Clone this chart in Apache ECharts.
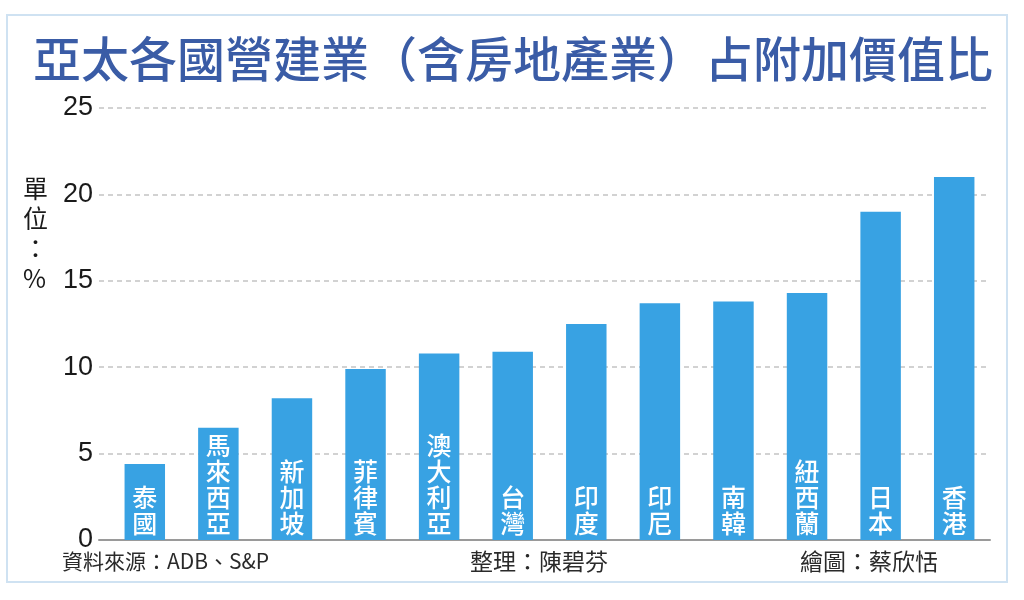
<!DOCTYPE html>
<html>
<head>
<meta charset="utf-8">
<script src="https://cdn.jsdelivr.net/npm/echarts@6/dist/echarts.min.js"></script>
<style>
html,body{margin:0;padding:0;background:#fff;}
#chart{width:1024px;height:600px;}
</style>
</head>
<body>
<div id="chart"></div>
<script>
const categories = ['泰國','馬來西亞','新加坡','菲律賓','澳大利亞','台灣','印度','印尼','南韓','紐西蘭','日本','香港'];
const values = [4.4, 6.5, 8.2, 9.9, 10.8, 10.9, 12.5, 13.7, 13.8, 14.3, 19.0, 21.0];
const yMin = 0, yMax = 25, yInterval = 5;
const titleText = '亞太各國營建業（含房地產業）占附加價值比';
const unitText = '單\n位\n：\n%';
const sourceText = '資料來源：ADB、S&P';
const editorText = '整理：陳碧芬';
const artistText = '繪圖：蔡欣恬';

const CJK = '"Noto Sans CJK TC","Noto Sans CJK SC",sans-serif';
const chart = echarts.init(document.getElementById('chart'));
chart.setOption({
  backgroundColor: '#ffffff',
  animation: false,
  title: {
    text: titleText,
    left: 28,
    top: 30,
    textStyle: { fontFamily: CJK, fontSize: 48, fontWeight: 500, color: '#3a5ca6' }
  },
  grid: [
    { left: 108, right: 33, top: 108, bottom: 60 },
    { left: 99, right: 34, top: 108, bottom: 60 }
  ],
  xAxis: [
    { type: 'category', gridIndex: 0, data: categories,
      axisLine: { show: false }, axisTick: { show: false }, axisLabel: { show: false } },
    { type: 'category', gridIndex: 1, data: [''],
      axisLine: { show: true, lineStyle: { color: '#9a9a9a', width: 2 } },
      axisTick: { show: false }, axisLabel: { show: false } }
  ],
  yAxis: [
    { type: 'value', gridIndex: 0, min: yMin, max: yMax, interval: yInterval, show: false },
    { type: 'value', gridIndex: 1, min: yMin, max: yMax, interval: yInterval,
      axisLine: { show: false }, axisTick: { show: false },
      axisLabel: { color: '#1a1a1a', fontSize: 27, fontFamily: 'Liberation Sans, Arial, sans-serif', margin: 6 },
      splitLine: { lineStyle: { color: '#c4c4c4', width: 1.5, type: [5, 4] } } }
  ],
  series: [{
    type: 'bar',
    xAxisIndex: 0, yAxisIndex: 0,
    data: values,
    barWidth: '55%',
    itemStyle: { color: '#38a2e3' },
    label: {
      show: true,
      position: 'insideBottom',
      distance: 4,
      formatter: p => p.name.split('').join('\n'),
      color: '#ffffff',
      fontFamily: CJK,
      fontWeight: 500,
      fontSize: 25,
      lineHeight: 26
    },
    z: 3
  }],
  graphic: [
    { type: 'rect', shape: { x: 7, y: 15, width: 1000, height: 567 },
      style: { fill: 'none', stroke: '#cfe2f2', lineWidth: 2 }, z: -1 },
    { type: 'text', left: 23, top: 173,
      style: { text: unitText, fontFamily: CJK, fontSize: 25, lineHeight: 30, fill: '#1a1a1a', align: 'center' } },
    { type: 'text', left: 62, top: 551,
      style: { text: sourceText, fontFamily: CJK, fontSize: 21, fill: '#2a2a2a' } },
    { type: 'text', left: 470, top: 550,
      style: { text: editorText, fontFamily: CJK, fontSize: 23, fill: '#2a2a2a' } },
    { type: 'text', left: 800, top: 550,
      style: { text: artistText, fontFamily: CJK, fontSize: 23, fill: '#2a2a2a' } }
  ]
});
</script>
</body>
</html>
